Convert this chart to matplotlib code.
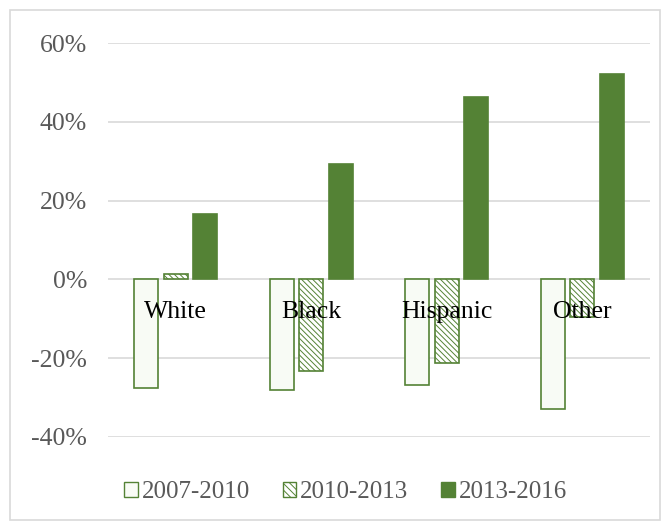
import matplotlib.pyplot as plt
import matplotlib.patches as mpatches
import numpy as np

groups = ['White', 'Black', 'Hispanic', 'Other']
periods = ['2007-2010', '2010-2013', '2013-2016']
v0710 = [-27.6, -28.0, -26.8, -33.0]
v1013 = [1.3, -23.3, -21.3, -9.6]
v1316 = [16.7, 29.4, 46.3, 52.2]
yticks = [-40, -20, 0, 20, 40, 60]

green = '#548235'
plt.rcParams['font.family'] = ['Liberation Serif', 'DejaVu Serif']
plt.rcParams['hatch.color'] = green
plt.rcParams['hatch.linewidth'] = 0.7

fig = plt.figure(figsize=(6.71, 5.27), dpi=100)
ax = fig.add_axes([0.161, 0.171, 0.808, 0.747])

x = np.arange(len(groups))
w = 0.178
step = 0.218
ax.bar(x - step, v0710, w, color='#f8fbf5', edgecolor=green, linewidth=1.2, zorder=3)
ax.bar(x, v1013, w, color='white', edgecolor=green, linewidth=1.2, hatch='\\\\\\\\\\\\', zorder=3)
ax.bar(x + step, v1316, w, color=green, edgecolor=green, linewidth=1.2, zorder=3)

for i, g in enumerate(groups):
    ax.text(x[i], -8.3, g, ha='center', va='center', fontsize=18.5, color='black', zorder=5)

ax.set_xlim(-0.5, len(groups) - 0.5)
ax.set_ylim(-40, 60)
ax.set_yticks(yticks)
ax.set_yticklabels(['%d%%' % t for t in yticks], fontsize=18.5, color='#595959')
ax.set_xticks([])
ax.tick_params(axis='y', length=0, pad=15)
ax.grid(axis='y', color='#d9d9d9', linewidth=1.2, zorder=0)
for s in ax.spines.values():
    s.set_visible(False)

handles = [
    mpatches.Patch(facecolor='#f8fbf5', edgecolor=green, label=periods[0]),
    mpatches.Patch(facecolor='white', edgecolor=green, hatch='\\\\\\\\\\', label=periods[1]),
    mpatches.Patch(facecolor=green, edgecolor=green, label=periods[2]),
]
fig.legend(handles=handles, loc='center', bbox_to_anchor=(0.515, 0.066), ncol=3, frameon=False,
           fontsize=18, labelcolor='#595959', handlelength=0.55, handleheight=0.55,
           handletextpad=0.15, columnspacing=1.3)

fig.patches.append(mpatches.Rectangle((10 / 671, 7 / 527), 650 / 671, 510 / 527, transform=fig.transFigure,
                                      fill=False, edgecolor='#d9d9d9', linewidth=1.2))

fig.savefig('out.png', dpi=100)
